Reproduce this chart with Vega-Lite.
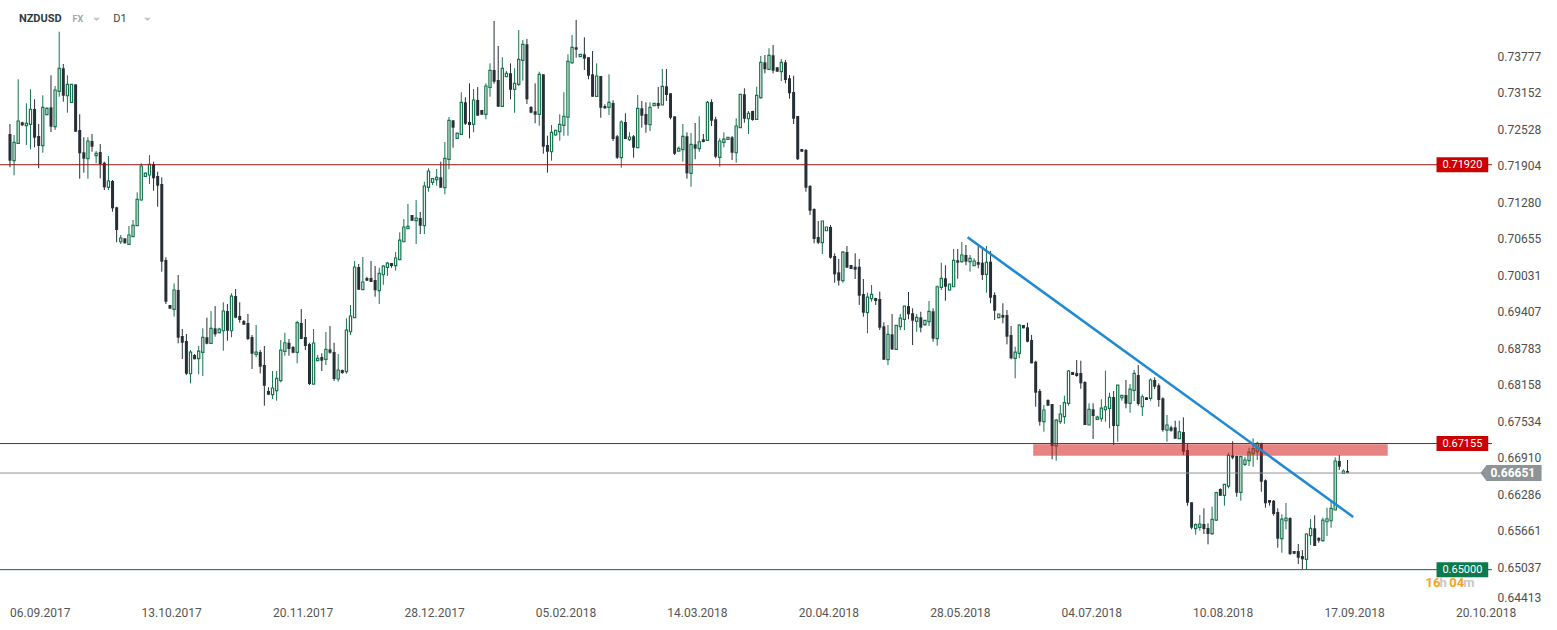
{
"$schema": "https://vega.github.io/schema/vega-lite/v6.json",
"width": 1492, "height": 604,
"autosize": {"type": "none"},
"padding": {"left": 0, "top": 0, "right": 65, "bottom": 26},
"background": "white",
"config": {"view": {"stroke": null}, "font": "Roboto",
 "axisX": {"domain": false, "ticks": false, "grid": false, "labelFontSize": 12, "labelColor": "#555555", "labelPadding": 3, "labelFlush": false, "labelOverlap": false},
 "axisY": {"domain": false, "ticks": false, "grid": false, "labelFontSize": 12, "labelColor": "#4d4d4d", "labelPadding": 5, "labelFlush": true, "labelOverlap": false}},
"datasets": {"c": [
{"i":0,"o":0.72445,"h":0.72616,"l":0.71876,"c":0.71989},
{"i":1,"o":0.71989,"h":0.72428,"l":0.71739,"c":0.72303},
{"i":2,"o":0.72286,"h":0.73380,"l":0.72274,"c":0.72667},
{"i":3,"o":0.72645,"h":0.72655,"l":0.72582,"c":0.72594},
{"i":4,"o":0.72587,"h":0.72970,"l":0.72257,"c":0.72628},
{"i":5,"o":0.72611,"h":0.73209,"l":0.72183,"c":0.72867},
{"i":6,"o":0.72872,"h":0.73038,"l":0.72218,"c":0.72382},
{"i":7,"o":0.72411,"h":0.72616,"l":0.71859,"c":0.72240},
{"i":8,"o":0.72245,"h":0.73106,"l":0.72125,"c":0.72901},
{"i":9,"o":0.72775,"h":0.72901,"l":0.72765,"c":0.72884},
{"i":10,"o":0.72901,"h":0.73448,"l":0.72479,"c":0.72570},
{"i":11,"o":0.72570,"h":0.73265,"l":0.72513,"c":0.73197},
{"i":12,"o":0.73175,"h":0.74193,"l":0.73082,"c":0.73568},
{"i":13,"o":0.73568,"h":0.73641,"l":0.72997,"c":0.73099},
{"i":14,"o":0.73099,"h":0.73448,"l":0.72809,"c":0.73294},
{"i":15,"o":0.72987,"h":0.73294,"l":0.72980,"c":0.73294},
{"i":16,"o":0.73294,"h":0.73294,"l":0.72484,"c":0.72484},
{"i":17,"o":0.72513,"h":0.72782,"l":0.71681,"c":0.72115},
{"i":18,"o":0.72132,"h":0.72389,"l":0.71784,"c":0.72023},
{"i":19,"o":0.72023,"h":0.72389,"l":0.71681,"c":0.72325},
{"i":20,"o":0.72325,"h":0.72445,"l":0.72142,"c":0.72228},
{"i":21,"o":0.72074,"h":0.72154,"l":0.71944,"c":0.72115},
{"i":22,"o":0.72137,"h":0.72274,"l":0.71688,"c":0.71932},
{"i":23,"o":0.71954,"h":0.71972,"l":0.71488,"c":0.71534},
{"i":24,"o":0.71534,"h":0.72069,"l":0.71488,"c":0.71642},
{"i":25,"o":0.71642,"h":0.71659,"l":0.71117,"c":0.71175},
{"i":26,"o":0.71192,"h":0.71202,"l":0.70594,"c":0.70804},
{"i":27,"o":0.70604,"h":0.70719,"l":0.70565,"c":0.70668},
{"i":28,"o":0.70662,"h":0.70662,"l":0.70577,"c":0.70577},
{"i":29,"o":0.70560,"h":0.70873,"l":0.70548,"c":0.70719},
{"i":30,"o":0.70690,"h":0.70975,"l":0.70690,"c":0.70885},
{"i":31,"o":0.70878,"h":0.71449,"l":0.70873,"c":0.71329},
{"i":32,"o":0.71317,"h":0.71944,"l":0.71305,"c":0.71898},
{"i":33,"o":0.71722,"h":0.71784,"l":0.71715,"c":0.71778},
{"i":34,"o":0.71744,"h":0.72086,"l":0.71590,"c":0.71927},
{"i":35,"o":0.71932,"h":0.71972,"l":0.71476,"c":0.71688},
{"i":36,"o":0.71727,"h":0.71801,"l":0.71202,"c":0.71561},
{"i":37,"o":0.71590,"h":0.71705,"l":0.70092,"c":0.70263},
{"i":38,"o":0.70292,"h":0.70338,"l":0.69540,"c":0.69579},
{"i":39,"o":0.69523,"h":0.69523,"l":0.69459,"c":0.69459},
{"i":40,"o":0.69449,"h":0.69893,"l":0.69323,"c":0.69779},
{"i":41,"o":0.69779,"h":0.70035,"l":0.68868,"c":0.68964},
{"i":42,"o":0.68993,"h":0.69112,"l":0.68600,"c":0.68878},
{"i":43,"o":0.68907,"h":0.69027,"l":0.68326,"c":0.68348},
{"i":44,"o":0.68348,"h":0.68753,"l":0.68184,"c":0.68719},
{"i":45,"o":0.68668,"h":0.68685,"l":0.68595,"c":0.68595},
{"i":46,"o":0.68605,"h":0.68822,"l":0.68338,"c":0.68736},
{"i":47,"o":0.68714,"h":0.69124,"l":0.68309,"c":0.68971},
{"i":48,"o":0.68971,"h":0.69306,"l":0.68851,"c":0.68861},
{"i":49,"o":0.68868,"h":0.69420,"l":0.68868,"c":0.69124},
{"i":50,"o":0.69124,"h":0.69505,"l":0.68981,"c":0.69022},
{"i":51,"o":0.69049,"h":0.69135,"l":0.69039,"c":0.69112},
{"i":52,"o":0.69083,"h":0.69569,"l":0.68742,"c":0.69420},
{"i":53,"o":0.69420,"h":0.69540,"l":0.68912,"c":0.69083},
{"i":54,"o":0.69083,"h":0.69723,"l":0.68971,"c":0.69676},
{"i":55,"o":0.69676,"h":0.69796,"l":0.69295,"c":0.69306},
{"i":56,"o":0.69335,"h":0.69569,"l":0.69220,"c":0.69266},
{"i":57,"o":0.69249,"h":0.69266,"l":0.69181,"c":0.69186},
{"i":58,"o":0.69215,"h":0.69369,"l":0.68924,"c":0.68941},
{"i":59,"o":0.68976,"h":0.69010,"l":0.68429,"c":0.68690},
{"i":60,"o":0.68680,"h":0.69181,"l":0.68629,"c":0.68719},
{"i":61,"o":0.68719,"h":0.68753,"l":0.68355,"c":0.68468},
{"i":62,"o":0.68497,"h":0.68822,"l":0.67802,"c":0.68143},
{"i":63,"o":0.68053,"h":0.68116,"l":0.67984,"c":0.67990},
{"i":64,"o":0.67990,"h":0.68395,"l":0.67916,"c":0.68104},
{"i":65,"o":0.68058,"h":0.68395,"l":0.67887,"c":0.68270},
{"i":66,"o":0.68229,"h":0.68924,"l":0.68202,"c":0.68753},
{"i":67,"o":0.68731,"h":0.69049,"l":0.68656,"c":0.68878},
{"i":68,"o":0.68878,"h":0.68941,"l":0.68656,"c":0.68771},
{"i":69,"o":0.68805,"h":0.68822,"l":0.68697,"c":0.68707},
{"i":70,"o":0.68714,"h":0.69254,"l":0.68526,"c":0.69220},
{"i":71,"o":0.69215,"h":0.69454,"l":0.68941,"c":0.68941},
{"i":72,"o":0.68976,"h":0.69283,"l":0.68753,"c":0.68822},
{"i":73,"o":0.68856,"h":0.68878,"l":0.68155,"c":0.68172},
{"i":74,"o":0.68172,"h":0.69112,"l":0.68172,"c":0.68873},
{"i":75,"o":0.68571,"h":0.68668,"l":0.68565,"c":0.68612},
{"i":76,"o":0.68634,"h":0.68697,"l":0.68395,"c":0.68571},
{"i":77,"o":0.68595,"h":0.69061,"l":0.68497,"c":0.68765},
{"i":78,"o":0.68765,"h":0.69164,"l":0.68690,"c":0.68707},
{"i":79,"o":0.68719,"h":0.68878,"l":0.68224,"c":0.68258},
{"i":80,"o":0.68258,"h":0.68685,"l":0.68212,"c":0.68412},
{"i":81,"o":0.68412,"h":0.68417,"l":0.68348,"c":0.68360},
{"i":82,"o":0.68383,"h":0.69295,"l":0.68348,"c":0.69095},
{"i":83,"o":0.69066,"h":0.69523,"l":0.69010,"c":0.69335},
{"i":84,"o":0.69306,"h":0.70275,"l":0.69306,"c":0.70172},
{"i":85,"o":0.70172,"h":0.70223,"l":0.69779,"c":0.69784},
{"i":86,"o":0.69784,"h":0.70343,"l":0.69779,"c":0.69916},
{"i":87,"o":0.69984,"h":0.70006,"l":0.69933,"c":0.69938},
{"i":88,"o":0.69984,"h":0.70275,"l":0.69916,"c":0.69916},
{"i":89,"o":0.69950,"h":0.70189,"l":0.69664,"c":0.69774},
{"i":90,"o":0.69767,"h":0.70160,"l":0.69540,"c":0.70064},
{"i":91,"o":0.70040,"h":0.70206,"l":0.69869,"c":0.70189},
{"i":92,"o":0.70167,"h":0.70252,"l":0.70018,"c":0.70240},
{"i":93,"o":0.70240,"h":0.70240,"l":0.70160,"c":0.70189},
{"i":94,"o":0.70194,"h":0.70428,"l":0.70109,"c":0.70326},
{"i":95,"o":0.70297,"h":0.70765,"l":0.70297,"c":0.70633},
{"i":96,"o":0.70604,"h":0.70992,"l":0.70599,"c":0.70856},
{"i":97,"o":0.70827,"h":0.71249,"l":0.70827,"c":0.70868},
{"i":98,"o":0.71061,"h":0.71061,"l":0.70963,"c":0.70963},
{"i":99,"o":0.70963,"h":0.71317,"l":0.70565,"c":0.71009},
{"i":100,"o":0.71009,"h":0.71112,"l":0.70736,"c":0.70878},
{"i":101,"o":0.70878,"h":0.71630,"l":0.70736,"c":0.71556},
{"i":102,"o":0.71534,"h":0.71859,"l":0.71459,"c":0.71813},
{"i":103,"o":0.71619,"h":0.71688,"l":0.71573,"c":0.71681},
{"i":104,"o":0.71664,"h":0.71847,"l":0.71561,"c":0.71705},
{"i":105,"o":0.71705,"h":0.71972,"l":0.71527,"c":0.71527},
{"i":106,"o":0.71527,"h":0.72308,"l":0.71414,"c":0.72030},
{"i":107,"o":0.72013,"h":0.72735,"l":0.71842,"c":0.72679},
{"i":108,"o":0.72679,"h":0.72679,"l":0.72211,"c":0.72553},
{"i":109,"o":0.72371,"h":0.72474,"l":0.72371,"c":0.72457},
{"i":110,"o":0.72440,"h":0.73158,"l":0.72440,"c":0.72987},
{"i":111,"o":0.72987,"h":0.73072,"l":0.72599,"c":0.72621},
{"i":112,"o":0.72650,"h":0.73311,"l":0.72371,"c":0.72599},
{"i":113,"o":0.72611,"h":0.73214,"l":0.72474,"c":0.73026},
{"i":114,"o":0.73026,"h":0.73248,"l":0.72758,"c":0.72758},
{"i":115,"o":0.72855,"h":0.72855,"l":0.72770,"c":0.72775},
{"i":116,"o":0.72782,"h":0.73311,"l":0.72696,"c":0.73265},
{"i":117,"o":0.73243,"h":0.73653,"l":0.73082,"c":0.73534},
{"i":118,"o":0.73539,"h":0.74376,"l":0.73305,"c":0.73339},
{"i":119,"o":0.73368,"h":0.73949,"l":0.72911,"c":0.72911},
{"i":120,"o":0.72918,"h":0.73756,"l":0.72911,"c":0.73568},
{"i":121,"o":0.73424,"h":0.73522,"l":0.73419,"c":0.73482},
{"i":122,"o":0.73482,"h":0.73653,"l":0.73038,"c":0.73202},
{"i":123,"o":0.73209,"h":0.73568,"l":0.72809,"c":0.73311},
{"i":124,"o":0.73294,"h":0.74222,"l":0.73265,"c":0.73722},
{"i":125,"o":0.73704,"h":0.74051,"l":0.73356,"c":0.73978},
{"i":126,"o":0.73978,"h":0.74068,"l":0.72958,"c":0.73038},
{"i":127,"o":0.72906,"h":0.72923,"l":0.72799,"c":0.72809},
{"i":128,"o":0.72833,"h":0.73311,"l":0.72628,"c":0.72775},
{"i":129,"o":0.72782,"h":0.73510,"l":0.72587,"c":0.73465},
{"i":130,"o":0.73465,"h":0.73465,"l":0.72108,"c":0.72228},
{"i":131,"o":0.72257,"h":0.72416,"l":0.71784,"c":0.72142},
{"i":132,"o":0.72142,"h":0.72599,"l":0.71989,"c":0.72474},
{"i":133,"o":0.72428,"h":0.72513,"l":0.72416,"c":0.72508},
{"i":134,"o":0.72484,"h":0.72782,"l":0.72330,"c":0.72611},
{"i":135,"o":0.72594,"h":0.73158,"l":0.72416,"c":0.72747},
{"i":136,"o":0.72735,"h":0.73807,"l":0.72416,"c":0.73687},
{"i":137,"o":0.73663,"h":0.74137,"l":0.73641,"c":0.73927},
{"i":138,"o":0.73927,"h":0.74393,"l":0.73749,"c":0.73886},
{"i":139,"o":0.73766,"h":0.73807,"l":0.73766,"c":0.73807},
{"i":140,"o":0.73807,"h":0.74098,"l":0.73539,"c":0.73732},
{"i":141,"o":0.73756,"h":0.73756,"l":0.73380,"c":0.73441},
{"i":142,"o":0.73465,"h":0.73863,"l":0.73082,"c":0.73082},
{"i":143,"o":0.73089,"h":0.73653,"l":0.73082,"c":0.73436},
{"i":144,"o":0.73436,"h":0.73436,"l":0.72723,"c":0.72894},
{"i":145,"o":0.72923,"h":0.72953,"l":0.72877,"c":0.72884},
{"i":146,"o":0.72901,"h":0.73465,"l":0.72770,"c":0.72987},
{"i":147,"o":0.72975,"h":0.73021,"l":0.72325,"c":0.72359},
{"i":148,"o":0.72406,"h":0.72428,"l":0.72018,"c":0.72040},
{"i":149,"o":0.72040,"h":0.72679,"l":0.71869,"c":0.72650},
{"i":150,"o":0.72650,"h":0.72799,"l":0.72359,"c":0.72359},
{"i":151,"o":0.72348,"h":0.72474,"l":0.72325,"c":0.72394},
{"i":152,"o":0.72406,"h":0.72428,"l":0.72040,"c":0.72211},
{"i":153,"o":0.72211,"h":0.73111,"l":0.72211,"c":0.72884},
{"i":154,"o":0.72884,"h":0.73009,"l":0.72553,"c":0.72758},
{"i":155,"o":0.72787,"h":0.72987,"l":0.72467,"c":0.72604},
{"i":156,"o":0.72604,"h":0.72987,"l":0.72496,"c":0.72901},
{"i":157,"o":0.72929,"h":0.72975,"l":0.72923,"c":0.72970},
{"i":158,"o":0.72975,"h":0.73248,"l":0.72877,"c":0.72923},
{"i":159,"o":0.72941,"h":0.73556,"l":0.72941,"c":0.73260},
{"i":160,"o":0.73260,"h":0.73556,"l":0.73009,"c":0.73111},
{"i":161,"o":0.73141,"h":0.73141,"l":0.72696,"c":0.72723},
{"i":162,"o":0.72747,"h":0.72747,"l":0.72086,"c":0.72108},
{"i":163,"o":0.72154,"h":0.72235,"l":0.72154,"c":0.72201},
{"i":164,"o":0.72177,"h":0.72616,"l":0.71972,"c":0.72406},
{"i":165,"o":0.72406,"h":0.72474,"l":0.71681,"c":0.71773},
{"i":166,"o":0.71773,"h":0.72462,"l":0.71544,"c":0.72269},
{"i":167,"o":0.72269,"h":0.72633,"l":0.72013,"c":0.72194},
{"i":168,"o":0.72194,"h":0.72747,"l":0.72142,"c":0.72313},
{"i":169,"o":0.72354,"h":0.72445,"l":0.72303,"c":0.72308},
{"i":170,"o":0.72337,"h":0.73009,"l":0.72325,"c":0.72987},
{"i":171,"o":0.72992,"h":0.73038,"l":0.72582,"c":0.72672},
{"i":172,"o":0.72696,"h":0.72741,"l":0.72030,"c":0.72057},
{"i":173,"o":0.72047,"h":0.72371,"l":0.71886,"c":0.72325},
{"i":174,"o":0.72303,"h":0.72474,"l":0.72218,"c":0.72359},
{"i":175,"o":0.72354,"h":0.72389,"l":0.72354,"c":0.72389},
{"i":176,"o":0.72389,"h":0.72411,"l":0.72001,"c":0.72125},
{"i":177,"o":0.72125,"h":0.72713,"l":0.71954,"c":0.72582},
{"i":178,"o":0.72553,"h":0.73129,"l":0.72553,"c":0.73123},
{"i":179,"o":0.73123,"h":0.73226,"l":0.72638,"c":0.72706},
{"i":180,"o":0.72706,"h":0.72838,"l":0.72445,"c":0.72799},
{"i":181,"o":0.72838,"h":0.72843,"l":0.72672,"c":0.72684},
{"i":182,"o":0.72696,"h":0.73253,"l":0.72684,"c":0.73106},
{"i":183,"o":0.73065,"h":0.73778,"l":0.73048,"c":0.73670},
{"i":184,"o":0.73670,"h":0.73795,"l":0.73482,"c":0.73551},
{"i":185,"o":0.73551,"h":0.73910,"l":0.73551,"c":0.73790},
{"i":186,"o":0.73790,"h":0.73966,"l":0.73482,"c":0.73527},
{"i":187,"o":0.73585,"h":0.73585,"l":0.73510,"c":0.73510},
{"i":188,"o":0.73510,"h":0.73727,"l":0.73351,"c":0.73670},
{"i":189,"o":0.73670,"h":0.73710,"l":0.73311,"c":0.73368},
{"i":190,"o":0.73397,"h":0.73453,"l":0.73048,"c":0.73141},
{"i":191,"o":0.73163,"h":0.73441,"l":0.72616,"c":0.72706},
{"i":192,"o":0.72753,"h":0.72753,"l":0.72001,"c":0.72013},
{"i":193,"o":0.72189,"h":0.72189,"l":0.72142,"c":0.72142},
{"i":194,"o":0.72171,"h":0.72189,"l":0.71459,"c":0.71527},
{"i":195,"o":0.71556,"h":0.71573,"l":0.71061,"c":0.71134},
{"i":196,"o":0.71163,"h":0.71175,"l":0.70577,"c":0.70650},
{"i":197,"o":0.70685,"h":0.70958,"l":0.70565,"c":0.70587},
{"i":198,"o":0.70587,"h":0.70958,"l":0.70394,"c":0.70958},
{"i":199,"o":0.70792,"h":0.70856,"l":0.70792,"c":0.70856},
{"i":200,"o":0.70856,"h":0.70890,"l":0.70314,"c":0.70331},
{"i":201,"o":0.70360,"h":0.70406,"l":0.69904,"c":0.70047},
{"i":202,"o":0.70081,"h":0.70309,"l":0.69855,"c":0.69938},
{"i":203,"o":0.69938,"h":0.70445,"l":0.69904,"c":0.70428},
{"i":204,"o":0.70428,"h":0.70531,"l":0.70160,"c":0.70160},
{"i":205,"o":0.70206,"h":0.70206,"l":0.70138,"c":0.70138},
{"i":206,"o":0.70177,"h":0.70406,"l":0.69967,"c":0.70126},
{"i":207,"o":0.70177,"h":0.70309,"l":0.69523,"c":0.69682},
{"i":208,"o":0.69711,"h":0.69967,"l":0.69323,"c":0.69391},
{"i":209,"o":0.69391,"h":0.69733,"l":0.69039,"c":0.69659},
{"i":210,"o":0.69630,"h":0.69864,"l":0.69579,"c":0.69705},
{"i":211,"o":0.69642,"h":0.69642,"l":0.69523,"c":0.69591},
{"i":212,"o":0.69625,"h":0.69750,"l":0.69095,"c":0.69135},
{"i":213,"o":0.69159,"h":0.69227,"l":0.68583,"c":0.68588},
{"i":214,"o":0.68588,"h":0.69181,"l":0.68497,"c":0.69022},
{"i":215,"o":0.69022,"h":0.69369,"l":0.68753,"c":0.68765},
{"i":216,"o":0.68765,"h":0.69181,"l":0.68753,"c":0.69176},
{"i":217,"o":0.69152,"h":0.69369,"l":0.69095,"c":0.69300},
{"i":218,"o":0.69278,"h":0.69505,"l":0.69095,"c":0.69505},
{"i":219,"o":0.69505,"h":0.69745,"l":0.69278,"c":0.69364},
{"i":220,"o":0.69381,"h":0.69466,"l":0.68839,"c":0.69254},
{"i":221,"o":0.69244,"h":0.69369,"l":0.69066,"c":0.69312},
{"i":222,"o":0.69312,"h":0.69408,"l":0.69056,"c":0.69135},
{"i":223,"o":0.69186,"h":0.69266,"l":0.69164,"c":0.69261},
{"i":224,"o":0.69237,"h":0.69591,"l":0.69164,"c":0.69415},
{"i":225,"o":0.69415,"h":0.69466,"l":0.68895,"c":0.68947},
{"i":226,"o":0.68947,"h":0.69855,"l":0.68827,"c":0.69835},
{"i":227,"o":0.69825,"h":0.70245,"l":0.69779,"c":0.69979},
{"i":228,"o":0.69979,"h":0.70201,"l":0.69596,"c":0.69835},
{"i":229,"o":0.69779,"h":0.69881,"l":0.69767,"c":0.69881},
{"i":230,"o":0.69835,"h":0.70480,"l":0.69835,"c":0.70286},
{"i":231,"o":0.70286,"h":0.70480,"l":0.69972,"c":0.70246},
{"i":232,"o":0.70263,"h":0.70599,"l":0.70246,"c":0.70377},
{"i":233,"o":0.70377,"h":0.70548,"l":0.70201,"c":0.70263},
{"i":234,"o":0.70263,"h":0.70377,"l":0.70092,"c":0.70321},
{"i":235,"o":0.70194,"h":0.70321,"l":0.70189,"c":0.70275},
{"i":236,"o":0.70257,"h":0.70536,"l":0.70150,"c":0.70211},
{"i":237,"o":0.70246,"h":0.70480,"l":0.69950,"c":0.70035},
{"i":238,"o":0.70047,"h":0.70531,"l":0.69733,"c":0.70252},
{"i":239,"o":0.70263,"h":0.70445,"l":0.69552,"c":0.69647},
{"i":240,"o":0.69693,"h":0.69740,"l":0.69266,"c":0.69425},
{"i":241,"o":0.69306,"h":0.69369,"l":0.69295,"c":0.69369},
{"i":242,"o":0.69352,"h":0.69552,"l":0.69210,"c":0.69306},
{"i":243,"o":0.69352,"h":0.69437,"l":0.68851,"c":0.68981},
{"i":244,"o":0.69010,"h":0.69164,"l":0.68595,"c":0.68612},
{"i":245,"o":0.68612,"h":0.68810,"l":0.68270,"c":0.68719},
{"i":246,"o":0.68697,"h":0.69198,"l":0.68612,"c":0.69181},
{"i":247,"o":0.69181,"h":0.69181,"l":0.69124,"c":0.69124},
{"i":248,"o":0.69141,"h":0.69220,"l":0.68885,"c":0.68895},
{"i":249,"o":0.68924,"h":0.69010,"l":0.68526,"c":0.68526},
{"i":250,"o":0.68554,"h":0.68571,"l":0.67784,"c":0.68024},
{"i":251,"o":0.68053,"h":0.68087,"l":0.67460,"c":0.67528},
{"i":252,"o":0.67528,"h":0.67814,"l":0.67357,"c":0.67728},
{"i":253,"o":0.67899,"h":0.67911,"l":0.67802,"c":0.67802},
{"i":254,"o":0.67831,"h":0.67831,"l":0.66886,"c":0.67113},
{"i":255,"o":0.67113,"h":0.67569,"l":0.66862,"c":0.67557},
{"i":256,"o":0.67528,"h":0.67814,"l":0.67489,"c":0.67660},
{"i":257,"o":0.67614,"h":0.67973,"l":0.67494,"c":0.67853},
{"i":258,"o":0.67843,"h":0.68412,"l":0.67802,"c":0.68395},
{"i":259,"o":0.68378,"h":0.68378,"l":0.68326,"c":0.68326},
{"i":260,"o":0.68360,"h":0.68583,"l":0.68297,"c":0.68309},
{"i":261,"o":0.68360,"h":0.68571,"l":0.68092,"c":0.68184},
{"i":262,"o":0.68207,"h":0.68219,"l":0.67472,"c":0.67472},
{"i":263,"o":0.67472,"h":0.67843,"l":0.67472,"c":0.67740},
{"i":264,"o":0.67740,"h":0.67843,"l":0.67232,"c":0.67626},
{"i":265,"o":0.67569,"h":0.67631,"l":0.67557,"c":0.67608},
{"i":266,"o":0.67579,"h":0.67911,"l":0.67528,"c":0.67762},
{"i":267,"o":0.67733,"h":0.68400,"l":0.67528,"c":0.67784},
{"i":268,"o":0.67757,"h":0.68024,"l":0.67415,"c":0.67945},
{"i":269,"o":0.67950,"h":0.68053,"l":0.67130,"c":0.67455},
{"i":270,"o":0.67467,"h":0.68155,"l":0.67186,"c":0.68155},
{"i":271,"o":0.67938,"h":0.67984,"l":0.67887,"c":0.67979},
{"i":272,"o":0.67984,"h":0.68241,"l":0.67757,"c":0.67836},
{"i":273,"o":0.67843,"h":0.68172,"l":0.67682,"c":0.68085},
{"i":274,"o":0.68063,"h":0.68412,"l":0.67882,"c":0.68355},
{"i":275,"o":0.68326,"h":0.68497,"l":0.67802,"c":0.67831},
{"i":276,"o":0.67784,"h":0.67996,"l":0.67626,"c":0.67955},
{"i":277,"o":0.67945,"h":0.67945,"l":0.67899,"c":0.67899},
{"i":278,"o":0.67928,"h":0.68270,"l":0.67887,"c":0.68241},
{"i":279,"o":0.68241,"h":0.68287,"l":0.68085,"c":0.68126},
{"i":280,"o":0.68150,"h":0.68184,"l":0.67784,"c":0.67899},
{"i":281,"o":0.67928,"h":0.67945,"l":0.67357,"c":0.67386},
{"i":282,"o":0.67386,"h":0.67643,"l":0.67186,"c":0.67472},
{"i":283,"o":0.67432,"h":0.67460,"l":0.67357,"c":0.67374},
{"i":284,"o":0.67432,"h":0.67545,"l":0.67238,"c":0.67238},
{"i":285,"o":0.67238,"h":0.67545,"l":0.67232,"c":0.67357},
{"i":286,"o":0.67352,"h":0.67603,"l":0.66959,"c":0.67015},
{"i":287,"o":0.67044,"h":0.67159,"l":0.66093,"c":0.66144},
{"i":288,"o":0.66151,"h":0.66151,"l":0.65689,"c":0.65717},
{"i":289,"o":0.65700,"h":0.65792,"l":0.65597,"c":0.65768},
{"i":290,"o":0.65723,"h":0.65934,"l":0.65665,"c":0.65780},
{"i":291,"o":0.65780,"h":0.66048,"l":0.65609,"c":0.65694},
{"i":292,"o":0.65711,"h":0.65792,"l":0.65433,"c":0.65609},
{"i":293,"o":0.65614,"h":0.66076,"l":0.65592,"c":0.65860},
{"i":294,"o":0.65848,"h":0.66332,"l":0.65831,"c":0.66315},
{"i":295,"o":0.66378,"h":0.66390,"l":0.66258,"c":0.66263},
{"i":296,"o":0.66270,"h":0.66458,"l":0.66093,"c":0.66458},
{"i":297,"o":0.66429,"h":0.66998,"l":0.66390,"c":0.66954},
{"i":298,"o":0.66954,"h":0.67193,"l":0.66886,"c":0.66913},
{"i":299,"o":0.66942,"h":0.66947,"l":0.66246,"c":0.66315},
{"i":300,"o":0.66322,"h":0.66947,"l":0.66178,"c":0.66930},
{"i":301,"o":0.66800,"h":0.66930,"l":0.66771,"c":0.66874},
{"i":302,"o":0.66862,"h":0.67084,"l":0.66771,"c":0.67010},
{"i":303,"o":0.66981,"h":0.67244,"l":0.66759,"c":0.67067},
{"i":304,"o":0.67015,"h":0.67186,"l":0.66874,"c":0.67159},
{"i":305,"o":0.67159,"h":0.67169,"l":0.66332,"c":0.66503},
{"i":306,"o":0.66527,"h":0.66544,"l":0.66058,"c":0.66134},
{"i":307,"o":0.66190,"h":0.66190,"l":0.66093,"c":0.66144},
{"i":308,"o":0.66178,"h":0.66190,"l":0.65922,"c":0.65951},
{"i":309,"o":0.65985,"h":0.66048,"l":0.65375,"c":0.65529},
{"i":310,"o":0.65529,"h":0.65946,"l":0.65289,"c":0.65865},
{"i":311,"o":0.65836,"h":0.66139,"l":0.65689,"c":0.65882},
{"i":312,"o":0.65882,"h":0.65894,"l":0.65250,"c":0.65267},
{"i":313,"o":0.65318,"h":0.65318,"l":0.65267,"c":0.65272},
{"i":314,"o":0.65318,"h":0.65438,"l":0.65096,"c":0.65204},
{"i":315,"o":0.65233,"h":0.65335,"l":0.65006,"c":0.65177},
{"i":316,"o":0.65177,"h":0.65621,"l":0.64994,"c":0.65609},
{"i":317,"o":0.65580,"h":0.65865,"l":0.65421,"c":0.65706},
{"i":318,"o":0.65706,"h":0.65929,"l":0.65404,"c":0.65404},
{"i":319,"o":0.65546,"h":0.65546,"l":0.65460,"c":0.65495},
{"i":320,"o":0.65495,"h":0.65888,"l":0.65477,"c":0.65848},
{"i":321,"o":0.65819,"h":0.66058,"l":0.65575,"c":0.65870},
{"i":322,"o":0.65836,"h":0.66156,"l":0.65717,"c":0.66048},
{"i":323,"o":0.66019,"h":0.66920,"l":0.66019,"c":0.66857},
{"i":324,"o":0.66857,"h":0.66959,"l":0.66703,"c":0.66759},
{"i":325,"o":0.66646,"h":0.66715,"l":0.66646,"c":0.66686},
{"i":326,"o":0.66686,"h":0.66874,"l":0.66646,"c":0.66651}
]},
"layer": [
{"data": {"name": "c"}, "mark": {"type": "rule", "strokeWidth": 1},
 "encoding": {
  "x": {"field": "i", "type": "quantitative", "title": null, "scale": {"domain": [-1.2107, 360], "nice": false, "zero": false},
        "axis": {"values": [7.26, 39.3, 71.33, 103.37, 135.4, 167.43, 199.47, 231.5, 263.54, 295.57, 327.6, 359.64],
                 "labelExpr": "['06.09.2017','13.10.2017','20.11.2017','28.12.2017','05.02.2018','14.03.2018','20.04.2018','28.05.2018','04.07.2018','10.08.2018','17.09.2018','20.10.2018'][round((datum.value-7.26)/32.034)]"}},
  "y": {"field": "l", "type": "quantitative", "title": null, "scale": {"domain": [0.64413, 0.74735], "nice": false, "zero": false},
        "axis": {"orient": "right", "format": ".5f", "values": [0.73777, 0.73152, 0.72528, 0.71904, 0.7128, 0.70655, 0.70031, 0.69407, 0.68783, 0.68158, 0.67534, 0.6691, 0.66286, 0.65661, 0.65037, 0.64413]}},
  "y2": {"field": "h"},
  "color": {"condition": {"test": "datum.c >= datum.o", "value": "#14744c"}, "value": "#262e36"}
 }},
{"data": {"name": "c"}, "transform": [{"filter": "datum.c < datum.o"}],
 "mark": {"type": "bar", "size": 3, "color": "#262e36"},
 "encoding": {
  "x": {"field": "i", "type": "quantitative", "title": null},
  "y": {"field": "o", "type": "quantitative", "title": null},
  "y2": {"field": "c"}
 }},
{"data": {"name": "c"}, "transform": [{"filter": "datum.c >= datum.o"}],
 "mark": {"type": "bar", "size": 2.2, "fill": "white", "stroke": "#14744c", "strokeWidth": 1.2},
 "encoding": {
  "x": {"field": "i", "type": "quantitative", "title": null},
  "y": {"field": "o", "type": "quantitative", "title": null},
  "y2": {"field": "c"}
 }},
{"data": {"values": [{"i": 249.4, "i2": 335.8, "p": 0.66947, "p2": 0.67145}]},
 "mark": {"type": "rect", "color": "#d51e1e", "opacity": 0.55},
 "encoding": {
  "x": {"field": "i", "type": "quantitative", "title": null}, "x2": {"field": "i2"},
  "y": {"field": "p", "type": "quantitative", "title": null}, "y2": {"field": "p2"}
 }},
{"data": {"values": [{"p": 0.7192}, {"p": 0.67155}]},
 "mark": {"type": "rule", "color": "#9a1414", "strokeWidth": 1},
 "encoding": {"y": {"field": "p", "type": "quantitative", "title": null}}},
{"data": {"values": [{"p": 0.66651}]},
 "mark": {"type": "rule", "color": "#8c9497", "strokeWidth": 1},
 "encoding": {"y": {"field": "p", "type": "quantitative", "title": null}}},
{"data": {"values": [{"p": 0.65}]},
 "mark": {"type": "rule", "color": "#0b6b45", "strokeWidth": 1},
 "encoding": {"y": {"field": "p", "type": "quantitative", "title": null}}},
{"data": {"values": [{"i": 233.4, "p": 0.7068}, {"i": 327.4, "p": 0.659}]},
 "mark": {"type": "line", "color": "#1f8ad4", "strokeWidth": 2.5},
 "encoding": {
  "x": {"field": "i", "type": "quantitative", "title": null},
  "y": {"field": "p", "type": "quantitative", "title": null}
 }},
{"data": {"values": [
  {"i": 347.7, "i2": 360.3, "p": 0.71792, "p2": 0.72048, "k": "r"},
  {"i": 347.7, "i2": 360.3, "p": 0.67027, "p2": 0.67283, "k": "r"},
  {"i": 347.7, "i2": 360.3, "p": 0.64872, "p2": 0.65128, "k": "n"},
  {"i": 359.8, "i2": 373.3, "p": 0.66514, "p2": 0.66788, "k": "g"}]},
 "mark": {"type": "rect"},
 "encoding": {
  "x": {"field": "i", "type": "quantitative", "title": null}, "x2": {"field": "i2"},
  "y": {"field": "p", "type": "quantitative", "title": null}, "y2": {"field": "p2"},
  "color": {"field": "k", "type": "nominal", "legend": null, "scale": {"domain": ["r", "g", "n"], "range": ["#cc0000", "#8c9497", "#0b7a4f"]}}
 }},
{"data": {"values": [{"i": 359.9, "p": 0.66651}]},
 "mark": {"type": "point", "shape": "M 0 -1 L -0.75 0 L 0 1 Z", "size": 256, "filled": true, "color": "#8c9497", "opacity": 1},
 "encoding": {
  "x": {"field": "i", "type": "quantitative", "title": null},
  "y": {"field": "p", "type": "quantitative", "title": null}
 }},
{"data": {"values": [
  {"i": 354.0, "p": 0.7192, "t": "0.71920"},
  {"i": 354.0, "p": 0.67155, "t": "0.67155"},
  {"i": 354.0, "p": 0.65, "t": "0.65000"}]},
 "mark": {"type": "text", "color": "white", "fontSize": 11, "align": "center", "baseline": "middle"},
 "encoding": {
  "x": {"field": "i", "type": "quantitative", "title": null},
  "y": {"field": "p", "type": "quantitative", "title": null},
  "text": {"field": "t"}
 }},
{"data": {"values": [{"i": 366.3, "p": 0.66651, "t": "0.66651"}]},
 "mark": {"type": "text", "color": "white", "fontSize": 12, "fontWeight": "bold", "align": "center", "baseline": "middle"},
 "encoding": {
  "x": {"field": "i", "type": "quantitative", "title": null},
  "y": {"field": "p", "type": "quantitative", "title": null},
  "text": {"field": "t"}
 }},
{"data": {"values": [
  {"i": 345.0, "p": 0.64772, "t": "16", "k": "o"},
  {"i": 348.4, "p": 0.64772, "t": "h", "k": "g"},
  {"i": 350.8, "p": 0.64772, "t": "04", "k": "o"},
  {"i": 354.2, "p": 0.64772, "t": "m", "k": "g"}]},
 "mark": {"type": "text", "fontSize": 13, "fontWeight": "bold", "align": "left", "baseline": "middle"},
 "encoding": {
  "x": {"field": "i", "type": "quantitative", "title": null},
  "y": {"field": "p", "type": "quantitative", "title": null},
  "text": {"field": "t"},
  "color": {"condition": {"test": "datum.k == 'o'", "value": "#f7a21b"}, "value": "#c8c8c8"}
 }},
{"data": {"values": [{"i": 2.18, "p": 0.7441, "t": "NZDUSD"}]},
 "mark": {"type": "text", "fontSize": 11, "fontWeight": "bold", "color": "#2d3a45", "align": "left", "baseline": "middle"},
 "encoding": {
  "x": {"field": "i", "type": "quantitative", "title": null},
  "y": {"field": "p", "type": "quantitative", "title": null},
  "text": {"field": "t"}
 }},
{"data": {"values": [{"i": 15.25, "p": 0.7441, "t": "FX"}]},
 "mark": {"type": "text", "fontSize": 9, "fontWeight": "bold", "color": "#a5a5a5", "align": "left", "baseline": "middle"},
 "encoding": {
  "x": {"field": "i", "type": "quantitative", "title": null},
  "y": {"field": "p", "type": "quantitative", "title": null},
  "text": {"field": "t"}
 }},
{"data": {"values": [{"i": 25.2, "p": 0.7441, "t": "D1"}]},
 "mark": {"type": "text", "fontSize": 11, "color": "#444444", "align": "left", "baseline": "middle"},
 "encoding": {
  "x": {"field": "i", "type": "quantitative", "title": null},
  "y": {"field": "p", "type": "quantitative", "title": null},
  "text": {"field": "t"}
 }},
{"data": {"values": [{"i": 21.1, "p": 0.74405}, {"i": 33.5, "p": 0.74405}]},
 "mark": {"type": "point", "shape": "M -1 -0.45 L 1 -0.45 L 0 0.45 Z", "size": 49, "filled": true, "color": "#c5c5c5", "opacity": 1},
 "encoding": {
  "x": {"field": "i", "type": "quantitative", "title": null},
  "y": {"field": "p", "type": "quantitative", "title": null}
 }}
]
}
